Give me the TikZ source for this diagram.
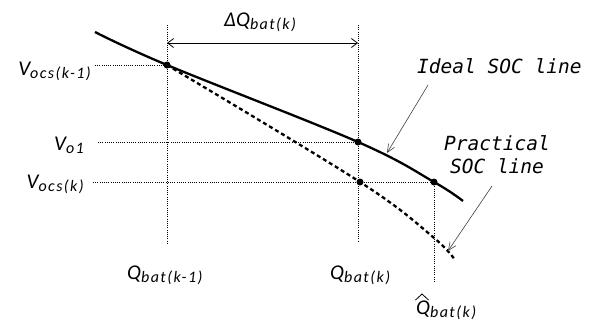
\documentclass[tikz,border=0pt]{standalone}
\usepackage{fontspec}
\setmainfont{Carlito}
\newfontfamily\subf[LetterSpace=9]{Carlito}
\newfontfamily\monof{DejaVu Sans Mono}
\usetikzlibrary{arrows.meta}
\newcommand{\mainl}[1]{{\fontsize{21}{21}\selectfont\itshape #1}}
\newcommand{\subl}[1]{\raisebox{-3pt}{\subf\fontsize{16}{16}\selectfont\itshape #1}}
\newcommand{\lbl}[2]{\mainl{#1}\subl{#2}}
\begin{document}
\begin{tikzpicture}[x=1pt,y=-1pt,
  ideal/.style={line width=2.3pt},
  practical/.style={line width=2.3pt, dash pattern=on 4pt off 3pt},
  guide/.style={line width=1pt, dash pattern=on 1pt off 1.2pt},
  dim/.style={line width=0.8pt, {Straight Barb[length=6pt,width=9pt]}-{Straight Barb[length=6pt,width=9pt]}},
  note/.style={line width=0.6pt, black!75, -{Straight Barb[length=8pt,width=7pt]}},
  lab/.style={inner sep=0pt},
  mono/.style={inner sep=0pt, font=\monof\itshape\fontsize{19.5}{23}\selectfont},
  dot/.style={circle, fill=black, inner sep=0pt, minimum size=7pt}]
\useasboundingbox (0,0) rectangle (601,325);
% key points
\coordinate (A) at (167,65);
\coordinate (B) at (358,142);
\coordinate (C) at (434,182);
\coordinate (D) at (360,182);
% guides
\draw[guide] (167,25) -- (167,243);
\draw[guide] (358,25) -- (358,242);
\draw[guide] (C) -- (434,282);
\draw[guide] (95,65) -- (A);
\draw[guide] (98,142) -- (B);
\draw[guide] (93,182) -- (C);
% curves
\draw[ideal] plot[smooth, tension=0.6] coordinates {(95,32) (167,65) (358,142) (434,182) (463,201)};
\draw[practical] plot[smooth, tension=0.6] coordinates {(167,65) (360,182) (433,237) (455,260)};
% dots
\node[dot] at (A) {};
\node[dot] at (B) {};
\node[dot] at (C) {};
\node[dot] at (D) {};
% dimension arrow
\coordinate (d1) at (167,43);
\coordinate (d2) at (358,43);
\draw[dim] (d1) -- (d2);
\node[lab, anchor=base west] (dq) at (224,26) {\mainl{ΔQ}\subl{bat(k)}};
% labels
\node[lab, anchor=base east] (vk1) at (91,75) {\lbl{V}{ocs(k-1)}};
\node[lab, anchor=base east] (vo1) at (84,150) {\lbl{V}{o1}};
\node[lab, anchor=base east] (vk) at (84,188) {\lbl{V}{ocs(k)}};
\node[lab, anchor=base west] (q1) at (127,279) {\lbl{Q}{bat(k-1)}};
\node[lab, anchor=base west] (q2) at (330,279) {\lbl{Q}{bat(k)}};
\node[lab, anchor=base west] (q3) at (416,314) {\lbl{Q}{bat(k)}};
\draw[line width=0.8pt] (415.5,300) -- (422,294) -- (428.5,300);
% annotations
\node[mono, anchor=base west] (ideal) at (417,73) {Ideal SOC line};
\node[mono, align=center] (prac) at (497,155) {Practical\\SOC line};
\coordinate (ia0) at (428,85);
\coordinate (ia1) at (387,153);
\coordinate (pa0) at (492,186);
\coordinate (pa1) at (448,251);
\draw[note] (ia0) -- (ia1);
\draw[note] (pa0) -- (pa1);
\end{tikzpicture}
\end{document}
